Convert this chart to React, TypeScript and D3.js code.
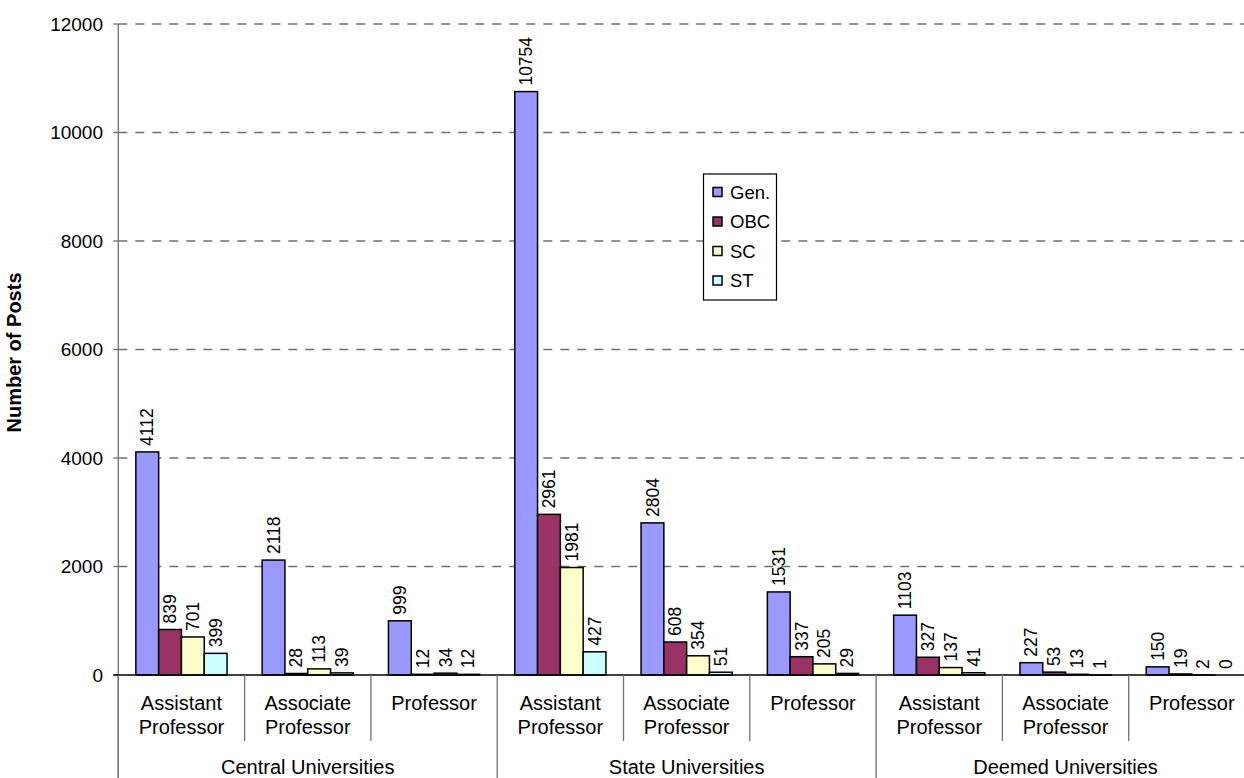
import React from "react";
import * as d3 from "d3";

const groups = ["Central Universities", "State Universities", "Deemed Universities"];
const posts = ["Assistant Professor", "Associate Professor", "Professor"];
const series = ["Gen.", "OBC", "SC", "ST"];
const colors = ["#9999FF", "#993366", "#FFFFCC", "#CCFFFF"];
const genValues = [4112, 2118, 999, 10754, 2804, 1531, 1103, 227, 150];
const obcValues = [839, 28, 12, 2961, 608, 337, 327, 53, 19];
const scValues = [701, 113, 34, 1981, 354, 205, 137, 13, 2];
const stValues = [399, 39, 12, 427, 51, 29, 41, 1, 0];
const yTicks = [0, 2000, 4000, 6000, 8000, 10000, 12000];

const W = 1244;
const H = 778;
const FONT = "'Liberation Sans', Arial, sans-serif";

export default function App() {
  const left = 118.3;
  const step = 126.3;
  const cats = groups.flatMap((g) => posts.map((p) => g + "|" + p));
  const x0 = d3.scaleBand<string>().domain(cats).range([left, left + step * cats.length]).padding(0);
  const x1 = d3.scaleBand<string>().domain(series).range([0, x0.bandwidth()]).paddingInner(0).paddingOuter(0.77);
  const y = d3.scaleLinear().domain([0, 12000]).range([675, 24]);
  const allValues = [genValues, obcValues, scValues, stValues];

  return (
    <svg width={W} height={H} style={{ position: "absolute", left: 0, top: 0, background: "#fff" }} fontFamily={FONT}>
      {/* gridlines */}
      {yTicks.filter((t) => t > 0).map((t) => (
        <line key={"g" + t} x1={left} x2={W} y1={y(t)} y2={y(t)} stroke="#707070" strokeWidth={1.4} strokeDasharray="9,8" />
      ))}
      {/* y axis */}
      <line x1={left} x2={left} y1={y(12000)} y2={H} stroke="#707070" strokeWidth={1.3} />
      {yTicks.map((t) => (
        <g key={"t" + t}>
          <line x1={left - 5} x2={left} y1={y(t)} y2={y(t)} stroke="#707070" strokeWidth={1.3} />
          <text x={103} y={y(t)} dy="0.35em" textAnchor="end" fontSize={19} fill="#000">{t}</text>
        </g>
      ))}
      <text transform={`translate(21,${(y(0) + y(12000)) / 2 + 3}) rotate(-90)`} textAnchor="middle" fontSize={20} fontWeight="bold" fill="#000">Number of Posts</text>

      {/* bars */}
      {cats.map((c, i) => (
        <g key={c} transform={`translate(${x0(c)},0)`}>
          {series.map((s, j) => {
            const v = allValues[j][i];
            const bx = x1(s)!;
            const bw = x1.bandwidth();
            return (
              <g key={s}>
                <rect x={bx} y={y(v)} width={bw} height={y(0) - y(v)} fill={colors[j]} stroke="#000" strokeWidth={1.5} />
                <text transform={`translate(${bx + bw / 2},${y(v) - 6}) rotate(-90)`} dy="0.35em" textAnchor="start" fontSize={17.5} fill="#000">{v}</text>
              </g>
            );
          })}
        </g>
      ))}

      {/* x axis baseline */}
      <line x1={left - 5} x2={W} y1={y(0)} y2={y(0)} stroke="#000" strokeWidth={1.5} />
      {/* sub separators */}
      {cats.map((c, i) => {
        const xs = x0(c)!;
        const major = i % 3 === 0;
        return <line key={"s" + c} x1={xs} x2={xs} y1={y(0)} y2={major ? H : 741} stroke="#707070" strokeWidth={1.3} />;
      })}
      <line x1={left + step * 9} x2={left + step * 9} y1={y(0)} y2={H} stroke="#707070" strokeWidth={1.3} />
      {/* sub labels */}
      {cats.map((c) => {
        const p = c.split("|")[1];
        const words = p.split(" ");
        const cx = x0(c)! + x0.bandwidth() / 2;
        return (
          <text key={"l" + c} x={cx} y={710} textAnchor="middle" fontSize={20} fill="#000">
            {words.map((w, k) => (
              <tspan key={k} x={cx} dy={k === 0 ? 0 : 24}>{w}</tspan>
            ))}
          </text>
        );
      })}
      {/* group labels */}
      {groups.map((g, gi) => (
        <text key={g} x={left + step * (gi * 3 + 1.5)} y={774} textAnchor="middle" fontSize={20} fill="#000">{g}</text>
      ))}

      {/* legend */}
      <g>
        <rect x={703.5} y={174} width={73} height={126} fill="#fff" stroke="#000" strokeWidth={1.2} />
        {series.map((s, j) => (
          <g key={s} transform={`translate(713,${192 + j * 29.5})`}>
            <rect x={0} y={-4.5} width={9} height={9} fill={colors[j]} stroke="#000" strokeWidth={1.5} />
            <text x={17} y={0} dy="0.36em" fontSize={18.5} fill="#000">{s}</text>
          </g>
        ))}
      </g>
    </svg>
  );
}
